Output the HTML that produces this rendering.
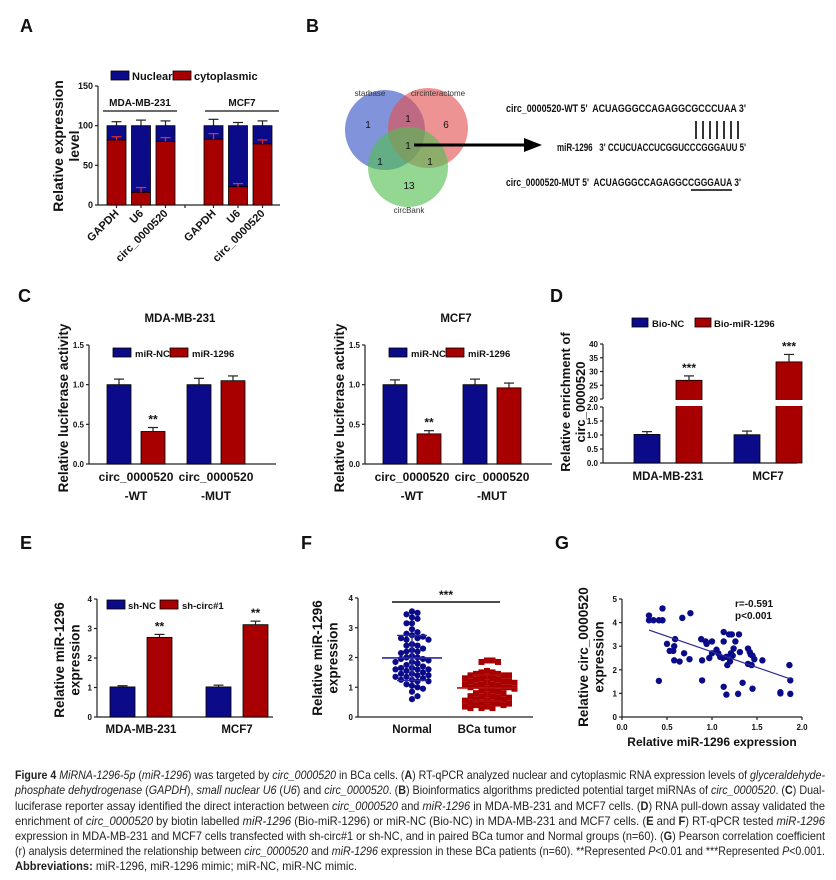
<!DOCTYPE html>
<html><head><meta charset="utf-8">
<style>
html,body{margin:0;padding:0;background:#fff;}
svg{display:block;font-family:"Liberation Sans",Arial,sans-serif;}
</style></head>
<body>
<svg id="fig" width="836" height="880" viewBox="0 0 836 880" xmlns="http://www.w3.org/2000/svg">
<rect x="0" y="0" width="836" height="880" fill="#fff"/>
<g font-weight="bold" font-size="18" fill="#111">
<text x="20" y="32">A</text>
<text x="306" y="32">B</text>
<text x="18" y="302">C</text>
<text x="550" y="302">D</text>
<text x="20" y="549">E</text>
<text x="301" y="549">F</text>
<text x="555" y="549">G</text>
</g>
<g>
<circle cx="385" cy="130" r="40" fill="rgba(80,105,205,0.72)"/>
<circle cx="428" cy="128" r="40" fill="rgba(228,80,80,0.62)"/>
<circle cx="408" cy="167" r="40" fill="rgba(80,190,80,0.62)"/>
<g font-size="8" fill="#333">
<text x="370" y="96" text-anchor="middle">starbase</text>
<text x="438" y="96" text-anchor="middle">circinteractome</text>
<text x="409" y="213" text-anchor="middle">circBank</text>
</g>
<g font-size="10" fill="#111" text-anchor="middle">
<text x="368" y="128">1</text>
<text x="408" y="122">1</text>
<text x="446" y="128">6</text>
<text x="408" y="149">1</text>
<text x="380" y="165">1</text>
<text x="430" y="165">1</text>
<text x="409" y="189">13</text>
</g>
<line x1="414" y1="145" x2="526" y2="145" stroke="#000" stroke-width="3"/>
<polygon points="524,138 542,145 524,152" fill="#000"/>
</g>
<g font-weight="bold" font-size="11" fill="#111">
<text x="506" y="112" textLength="240" lengthAdjust="spacingAndGlyphs">circ_0000520-WT 5'&#160; ACUAGGGCCAGAGGCGCCCUAA 3'</text>
<text x="557" y="151" textLength="189" lengthAdjust="spacingAndGlyphs">miR-1296&#160;&#160; 3' CCUCUACCUCGGUCCCGGGAUU 5'</text>
<text x="506" y="186" textLength="235" lengthAdjust="spacingAndGlyphs">circ_0000520-MUT 5'&#160; ACUAGGGCCAGAGGCCGGGAUA 3'</text>
<g stroke="#000" stroke-width="1.6">
<line x1="696" y1="121" x2="696" y2="139"/><line x1="703" y1="121" x2="703" y2="139"/><line x1="710" y1="121" x2="710" y2="139"/><line x1="717" y1="121" x2="717" y2="139"/><line x1="724" y1="121" x2="724" y2="139"/><line x1="731" y1="121" x2="731" y2="139"/><line x1="738" y1="121" x2="738" y2="139"/>
</g>
<line x1="691" y1="190" x2="732" y2="190" stroke="#000" stroke-width="1.4"/>
</g>
<g id="charts"></g>
<g font-size="11.6" fill="#222">
<text x="15" y="779" textLength="810" lengthAdjust="spacingAndGlyphs"><tspan font-weight="bold">Figure 4</tspan> <tspan font-style="italic">MiRNA-1296-5p</tspan> (<tspan font-style="italic">miR-1296</tspan>) was targeted by <tspan font-style="italic">circ_0000520</tspan> in BCa cells. (<tspan font-weight="bold">A</tspan>) RT-qPCR analyzed nuclear and cytoplasmic RNA expression levels of <tspan font-style="italic">glyceraldehyde-</tspan></text>
<text x="15" y="794" textLength="810" lengthAdjust="spacingAndGlyphs"><tspan font-style="italic">phosphate dehydrogenase</tspan> (<tspan font-style="italic">GAPDH</tspan>), <tspan font-style="italic">small nuclear U6</tspan> (<tspan font-style="italic">U6</tspan>) and <tspan font-style="italic">circ_0000520</tspan>. (<tspan font-weight="bold">B</tspan>) Bioinformatics algorithms predicted potential target miRNAs of <tspan font-style="italic">circ_0000520</tspan>. (<tspan font-weight="bold">C</tspan>) Dual-</text>
<text x="15" y="810" textLength="810" lengthAdjust="spacingAndGlyphs">luciferase reporter assay identified the direct interaction between <tspan font-style="italic">circ_0000520</tspan> and <tspan font-style="italic">miR-1296</tspan> in MDA-MB-231 and MCF7 cells. (<tspan font-weight="bold">D</tspan>) RNA pull-down assay validated the</text>
<text x="15" y="825" textLength="810" lengthAdjust="spacingAndGlyphs">enrichment of <tspan font-style="italic">circ_0000520</tspan> by biotin labelled <tspan font-style="italic">miR-1296</tspan> (Bio-miR-1296) or miR-NC (Bio-NC) in MDA-MB-231 and MCF7 cells. (<tspan font-weight="bold">E</tspan> and <tspan font-weight="bold">F</tspan>) RT-qPCR tested <tspan font-style="italic">miR-1296</tspan></text>
<text x="15" y="840" textLength="810" lengthAdjust="spacingAndGlyphs">expression in MDA-MB-231 and MCF7 cells transfected with sh-circ#1 or sh-NC, and in paired BCa tumor and Normal groups (n=60). (<tspan font-weight="bold">G</tspan>) Pearson correlation coefficient</text>
<text x="15" y="855" textLength="810" lengthAdjust="spacingAndGlyphs">(r) analysis determined the relationship between <tspan font-style="italic">circ_0000520</tspan> and <tspan font-style="italic">miR-1296</tspan> expression in these BCa patients (n=60). **Represented <tspan font-style="italic">P</tspan>&lt;0.01 and ***Represented <tspan font-style="italic">P</tspan>&lt;0.001.</text>
<text x="15" y="870" textLength="342" lengthAdjust="spacingAndGlyphs"><tspan font-weight="bold">Abbreviations:</tspan> miR-1296, miR-1296 mimic; miR-NC, miR-NC mimic.</text>
</g>
</svg>
<script>
// ---------- DATA ----------
const aCategories = ['GAPDH','U6','circ_0000520','GAPDH','U6','circ_0000520'];
const aCyto = [82,16,80,83,23,77];
const aNuclear = [18,84,20,17,77,23];
const aTotalErr = [5,7,6,8,4,6];
const aCytoErr = [4,6,5,7,4,5];
const aTicks = [0,50,100,150];
const aGroups = ['MDA-MB-231','MCF7'];
const cCategories = ['-WT','-MUT'];
const cLeftNC = [1.0,1.0];
const cLeftMiR = [0.41,1.05];
const cLeftNCErr = [0.07,0.08];
const cLeftMiRErr = [0.05,0.06];
const cRightNC = [1.0,1.0];
const cRightMiR = [0.38,0.96];
const cRightNCErr = [0.06,0.07];
const cRightMiRErr = [0.04,0.06];
const cTicks = [0,0.5,1.0,1.5];
const cTickLabels = ['0.0','0.5','1.0','1.5'];
const dCategories = ['MDA-MB-231','MCF7'];
const dBioNC = [1.02,1.01];
const dBioNCErr = [0.1,0.13];
const dBioMiR = [26.8,33.5];
const dBioMiRErr = [1.6,2.7];
const dLowTicks = [0,0.5,1.0,1.5,2.0];
const dLowTickLabels = ['0.0','0.5','1.0','1.5','2.0'];
const dHighTicks = [20,25,30,35,40];
const eCategories = ['MDA-MB-231','MCF7'];
const eShNC = [1.02,1.02];
const eShNCErr = [0.04,0.06];
const eShCirc = [2.7,3.13];
const eShCircErr = [0.1,0.12];
const eTicks = [0,1,2,3,4];
const fCategories = ['Normal','BCa tumor'];
const fNormal = [3.5,3.45,3.55,3.3,3.35,3.15,3.15,2.95,2.8,2.75,2.7,2.85,2.6,2.65,2.6,2.45,2.4,2.4,2.25,2.2,2.3,2.2,2.15,2.0,2.05,1.95,2.0,1.9,1.95,1.85,1.85,1.8,1.75,1.7,1.65,1.6,1.6,1.55,1.6,1.5,1.45,1.45,1.4,1.35,1.4,1.3,1.35,1.25,1.2,1.25,1.2,1.1,1.0,1.05,0.95,0.85,0.7,0.6,2.65,1.65];
const fTumor = [1.9,1.85,1.9,1.85,1.55,1.5,1.5,1.45,1.4,1.4,1.35,1.3,1.3,1.25,1.25,1.2,1.2,1.15,1.15,1.1,1.1,1.1,1.05,1.05,1.0,1.0,0.95,0.95,0.9,0.9,0.85,0.8,0.8,0.75,0.7,0.7,0.65,0.6,0.6,0.55,0.55,0.5,0.5,0.45,0.45,0.4,0.4,0.35,0.35,0.3,0.3,0.3,1.45,1.4,1.3,1.2,1.0,0.7,0.5,0.65];
const fTicks = [0,1,2,3,4];
const gMiR = [0.30,0.30,0.35,0.41,0.45,0.45,0.41,0.50,0.53,0.57,0.59,0.58,0.58,0.64,0.67,0.69,0.76,0.75,0.88,0.89,0.89,0.93,0.94,0.97,1.00,1.00,1.05,1.07,1.09,1.12,1.13,1.13,1.13,1.16,1.17,1.16,1.19,1.20,1.21,1.22,1.23,1.24,1.26,1.29,1.30,1.31,1.34,1.40,1.40,1.42,1.43,1.44,1.45,1.45,1.47,1.56,1.86,1.76,1.76,1.87,1.87];
const gCirc = [4.3,4.1,4.1,4.1,4.1,4.6,1.53,3.1,2.8,2.8,3.3,3.0,2.4,2.35,4.2,2.7,4.4,2.45,3.3,2.4,1.55,3.2,3.1,2.5,3.2,2.7,2.85,2.7,2.55,2.5,3.6,3.2,1.28,2.55,2.2,0.95,3.5,2.35,2.7,3.5,2.6,2.9,3.2,0.98,3.5,2.75,1.45,2.9,2.25,2.75,2.65,2.2,1.2,2.6,2.45,2.4,2.2,1.0,1.05,1.55,0.98];
const gXTicks = [0,0.5,1.0,1.5,2.0];
const gXTickLabels = ['0.0','0.5','1.0','1.5','2.0'];
const gYTicks = [0,1,2,3,4,5];

// ---------- HELPERS ----------
const NS = 'http://www.w3.org/2000/svg';
const root = document.getElementById('charts');
const NAVY = '#0b0b8a', RED = '#a80000';
function mk(tag, attrs, name, parent) {
  const el = document.createElementNS(NS, tag);
  for (const k in attrs) el.setAttribute(k, attrs[k]);
  
  
  (parent || root).appendChild(el);
  return el;
}
function txt(x, y, s, size, name, extra) {
  const a = Object.assign({x: x, y: y, 'font-size': size, 'font-weight': 'bold', fill: '#111'}, extra || {});
  const t = mk('text', a, name);
  t.textContent = s;
  return t;
}
function lin(d0, d1, r0, r1) { return v => r0 + (v - d0) * (r1 - r0) / (d1 - d0); }
function line(x1, y1, x2, y2, name, color, w) {
  return mk('line', {x1: x1, y1: y1, x2: x2, y2: y2, stroke: color || '#222', 'stroke-width': w || 1.2}, name);
}
function bar(x, w, yTop, yBot, color, name) {
  return mk('rect', {x: x, y: Math.min(yTop, yBot), width: w, height: Math.abs(yBot - yTop), fill: color, stroke: '#000', 'stroke-width': 0.8}, name);
}
function errUp(cx, yv, yerr, color, name) {
  line(cx, yv, cx, yerr, name + '-stem', color || '#222', 1.2);
  line(cx - 5, yerr, cx + 5, yerr, name + '-cap', color || '#222', 1.2);
}
function yAxis(x, y0, y1, ticks, labels, sc, name, size) {
  line(x, y0, x, y1, name + '-line');
  ticks.forEach((t, i) => {
    line(x - 3, sc(t), x, sc(t), name + '-tick');
    txt(x - 5, sc(t) + 3, labels ? labels[i] : String(t), size || 8, name + '-label', {'text-anchor': 'end'});
  });
}
function yLabel(cx, cy, lines, size, name) {
  lines.forEach((s, i) => {
    const x = cx + i * (size + 2);
    txt(x, cy, s, size, name, {'text-anchor': 'middle', transform: 'rotate(-90 ' + x + ' ' + cy + ')'});
  });
}

// ---------- PANEL A ----------
(function () {
  const y = lin(0, 150, 205, 86);
  const ax = 98;
  yAxis(ax, 205, 86, aTicks, null, y, 'a-y-axis', 9);
  line(ax, 205, 280, 205, 'a-x-axis');
  line(185, 205, 185, 208, 'a-x-tick');
  yLabel(63, 146, ['Relative expression', 'level'], 14, 'a-y-axis-title');
  const bw = 19;
  aCategories.forEach((c, i) => {
    const g = Math.floor(i / 3);
    const x = 107 + (i % 3) * 24.5 + g * 97;
    const cx = x + bw / 2;
    const total = aCyto[i] + aNuclear[i];
    errUp(cx, y(total), y(total + aTotalErr[i]), '#222', 'a-total-error');
    bar(x, bw, y(total), y(aCyto[i]), NAVY, 'a-bar-nuclear-' + i);
    bar(x, bw, y(aCyto[i]), y(0), RED, 'a-bar-cyto-' + i);
    errUp(cx, y(aCyto[i]), y(aCyto[i] + aCytoErr[i]), '#e03030', 'a-cyto-error');
    line(cx, 205, cx, 208, 'a-x-tick');
    txt(cx + 3, 214, c, 11, 'a-x-label-' + i, {'text-anchor': 'end', transform: 'rotate(-45 ' + (cx + 3) + ' 214)'});
  });
  aGroups.forEach((g, k) => {
    const x0 = 103 + k * 102, x1 = 177 + k * 102;
    line(x0, 111, x1, 111, 'a-group-line', '#111', 1.2);
    txt((x0 + x1) / 2, 106, g, 10, 'a-group-label', {'text-anchor': 'middle'});
  });
  mk('rect', {x: 111, y: 71, width: 18, height: 9, fill: NAVY, stroke: '#000', 'stroke-width': 0.8}, 'legend-swatch-nuclear');
  txt(132, 80, 'Nuclear', 11, 'legend-label-nuclear');
  mk('rect', {x: 173, y: 71, width: 18, height: 9, fill: RED, stroke: '#000', 'stroke-width': 0.8}, 'legend-swatch-cytoplasmic');
  txt(194, 80, 'cytoplasmic', 11, 'legend-label-cytoplasmic');
})();

// ---------- PANEL C ----------
function drawC(ax, title, nc, mi, ncE, miE, pre) {
  const y = lin(0, 1.5, 464, 345);
  yAxis(ax, 464, 345, cTicks, cTickLabels, y, pre + '-y-axis', 8);
  line(ax, 464, ax + 187, 464, pre + '-x-axis');
  yLabel(ax - 21, 408, ['Relative luciferase activity'], 13.5, pre + '-y-axis-title');
  txt(ax + 91, 322, title, 11.5, pre + '-title', {'text-anchor': 'middle'});
  cCategories.forEach((c, i) => {
    const gc = ax + 47 + i * 80;
    bar(gc - 29, 24, y(nc[i]), y(0), NAVY, pre + '-bar-mir-nc-' + i);
    errUp(gc - 17, y(nc[i]), y(nc[i] + ncE[i]), '#222', pre + '-err-nc');
    bar(gc + 5, 24, y(mi[i]), y(0), RED, pre + '-bar-mir-1296-' + i);
    errUp(gc + 17, y(mi[i]), y(mi[i] + miE[i]), '#222', pre + '-err-1296');
    if (mi[i] < 0.6) txt(gc + 17, y(mi[i] + miE[i]) - 4, '**', 12, pre + '-significance', {'text-anchor': 'middle'});
    txt(gc, 481, 'circ_0000520', 12, pre + '-x-label', {'text-anchor': 'middle'});
    txt(gc, 500, c, 12, pre + '-x-label', {'text-anchor': 'middle'});
  });
  mk('rect', {x: ax + 24, y: 348, width: 18, height: 9, fill: NAVY, stroke: '#000', 'stroke-width': 0.8}, pre + '-legend-swatch-nc');
  txt(ax + 46, 357, 'miR-NC', 9.5, pre + '-legend-label-nc');
  mk('rect', {x: ax + 81, y: 348, width: 18, height: 9, fill: RED, stroke: '#000', 'stroke-width': 0.8}, pre + '-legend-swatch-1296');
  txt(ax + 103, 357, 'miR-1296', 9.5, pre + '-legend-label-1296');
}
drawC(89, 'MDA-MB-231', cLeftNC, cLeftMiR, cLeftNCErr, cLeftMiRErr, 'c-left');
drawC(365, 'MCF7', cRightNC, cRightMiR, cRightNCErr, cRightMiRErr, 'c-right');

// ---------- PANEL D ----------
(function () {
  const ax = 603;
  const yl = lin(0, 2, 463, 407);
  const yh = lin(20, 40, 399, 344);
  const y = v => v <= 2 ? yl(v) : yh(v);
  yAxis(ax, 463, 407, dLowTicks, dLowTickLabels, yl, 'd-y-axis-low', 8);
  yAxis(ax, 399, 344, dHighTicks, null, yh, 'd-y-axis-high', 8);
  line(ax, 463, 797, 463, 'd-x-axis');
  yLabel(570, 402, ['Relative enrichment of', 'circ_0000520'], 13, 'd-y-axis-title');
  dCategories.forEach((c, i) => {
    const gc = 668 + i * 100;
    bar(gc - 34, 26, y(dBioNC[i]), y(0), NAVY, 'd-bar-bio-nc-' + i);
    errUp(gc - 21, y(dBioNC[i]), y(dBioNC[i] + dBioNCErr[i]), '#222', 'd-err-nc');
    bar(gc + 8, 26, y(dBioMiR[i]), y(0), RED, 'd-bar-bio-mir-' + i);
    mk('rect', {x: gc + 6, y: 400, width: 30, height: 6, fill: '#fff'}, 'd-axis-break-gap');
    errUp(gc + 21, y(dBioMiR[i]), y(dBioMiR[i] + dBioMiRErr[i]), '#222', 'd-err-mir');
    txt(gc + 21, y(dBioMiR[i] + dBioMiRErr[i]) - 4, '***', 12, 'd-significance', {'text-anchor': 'middle'});
    txt(gc, 480, c, 11.5, 'd-x-label', {'text-anchor': 'middle'});
  });
  mk('rect', {x: 632, y: 318, width: 16, height: 9, fill: NAVY, stroke: '#000', 'stroke-width': 0.8}, 'd-legend-swatch-nc');
  txt(652, 327, 'Bio-NC', 9.5, 'd-legend-label-nc');
  mk('rect', {x: 695, y: 318, width: 16, height: 9, fill: RED, stroke: '#000', 'stroke-width': 0.8}, 'd-legend-swatch-mir');
  txt(714, 327, 'Bio-miR-1296', 9.5, 'd-legend-label-mir');
})();

// ---------- PANEL E ----------
(function () {
  const ax = 97;
  const y = lin(0, 4, 717, 599);
  yAxis(ax, 717, 599, eTicks, null, y, 'e-y-axis', 8);
  line(ax, 717, 273, 717, 'e-x-axis');
  yLabel(64, 660, ['Relative miR-1296', 'expression'], 13.5, 'e-y-axis-title');
  eCategories.forEach((c, i) => {
    const gc = 141 + i * 96;
    bar(gc - 31, 25, y(eShNC[i]), y(0), NAVY, 'e-bar-sh-nc-' + i);
    errUp(gc - 18.5, y(eShNC[i]), y(eShNC[i] + eShNCErr[i]), '#222', 'e-err-nc');
    bar(gc + 6, 25, y(eShCirc[i]), y(0), RED, 'e-bar-sh-circ-' + i);
    errUp(gc + 18.5, y(eShCirc[i]), y(eShCirc[i] + eShCircErr[i]), '#222', 'e-err-circ');
    txt(gc + 18.5, y(eShCirc[i] + eShCircErr[i]) - 4, '**', 12, 'e-significance', {'text-anchor': 'middle'});
    txt(gc, 733, c, 11.5, 'e-x-label', {'text-anchor': 'middle'});
  });
  mk('rect', {x: 107, y: 600, width: 18, height: 9, fill: NAVY, stroke: '#000', 'stroke-width': 0.8}, 'e-legend-swatch-nc');
  txt(128, 609, 'sh-NC', 9.5, 'e-legend-label-nc');
  mk('rect', {x: 160, y: 600, width: 18, height: 9, fill: RED, stroke: '#000', 'stroke-width': 0.8}, 'e-legend-swatch-circ');
  txt(182, 609, 'sh-circ#1', 9.5, 'e-legend-label-circ');
})();

// ---------- PANEL F ----------
(function () {
  const ax = 358;
  const y = lin(0, 4, 717, 598);
  yAxis(ax, 717, 598, fTicks, null, y, 'f-y-axis', 8);
  line(ax, 717, 533, 717, 'f-x-axis');
  yLabel(322, 658, ['Relative miR-1296', 'expression'], 13.5, 'f-y-axis-title');
  line(392, 602, 500, 602, 'f-significance-line', '#111', 1.4);
  txt(446, 599, '***', 12, 'f-significance', {'text-anchor': 'middle'});
  const sets = [fNormal, fTumor];
  sets.forEach((data, g) => {
    const cx = 412 + g * 75;
    const placed = [];
    const D = 5.5;
    const order = data.map((v, i) => i).sort((a, b) => data[b] - data[a]);
    order.forEach(i => {
      const v = data[i];
      const py = y(v);
      let off = 0;
      for (let step = 0; step < 40; step++) {
        const cand = step === 0 ? 0 : (step % 2 ? 1 : -1) * Math.ceil(step / 2) * 2.75;
        const ok = placed.every(p => (p.x - cand) * (p.x - cand) + (p.y - py) * (p.y - py) >= D * D);
        if (ok) { off = cand; break; }
      }
      placed.push({x: off, y: py});
      if (g === 0) {
        mk('circle', {cx: cx + off, cy: py, r: 3.1, fill: NAVY}, 'f-point-normal');
      } else {
        mk('rect', {x: cx + off - 3, y: py - 3, width: 6, height: 6, fill: RED}, 'f-point-tumor');
      }
    });
    const mean = data.reduce((a, b) => a + b, 0) / data.length;
    const sd = Math.sqrt(data.reduce((a, b) => a + (b - mean) * (b - mean), 0) / (data.length - 1));
    const col = g === 0 ? '#2a2aa0' : '#b01010';
    line(cx - 30, y(mean), cx + 30, y(mean), 'f-mean-line', col, 1.6);
    line(cx, y(mean - sd), cx, y(mean + sd), 'f-sd-line', col, 1.3);
    line(cx - 15, y(mean + sd), cx + 15, y(mean + sd), 'f-sd-cap', col, 1.3);
    line(cx - 15, y(mean - sd), cx + 15, y(mean - sd), 'f-sd-cap', col, 1.3);
    txt(cx, 733, fCategories[g], 11.5, 'f-x-label', {'text-anchor': 'middle'});
  });
})();

// ---------- PANEL G ----------
(function () {
  const x = lin(0, 2, 622, 802);
  const y = lin(0, 5, 717, 599);
  yAxis(622, 717, 599, gYTicks, null, y, 'g-y-axis', 8);
  line(622, 717, 802, 717, 'g-x-axis');
  gXTicks.forEach((t, i) => {
    line(x(t), 717, x(t), 720, 'g-x-tick');
    txt(x(t), 730, gXTickLabels[i], 8, 'g-x-tick-label', {'text-anchor': 'middle'});
  });
  yLabel(588, 657, ['Relative circ_0000520', 'expression'], 13.5, 'g-y-axis-title');
  txt(712, 746, 'Relative miR-1296 expression', 12, 'g-x-axis-title', {'text-anchor': 'middle'});
  gMiR.forEach((v, i) => {
    mk('circle', {cx: x(v), cy: y(gCirc[i]), r: 3.2, fill: NAVY}, 'g-point');
  });
  const n = gMiR.length;
  const mx = gMiR.reduce((a, b) => a + b, 0) / n;
  const my = gCirc.reduce((a, b) => a + b, 0) / n;
  let sxy = 0, sxx = 0;
  gMiR.forEach((v, i) => { sxy += (v - mx) * (gCirc[i] - my); sxx += (v - mx) * (v - mx); });
  const slope = sxy / sxx, icpt = my - slope * mx;
  const xmin = Math.min.apply(null, gMiR), xmax = Math.max.apply(null, gMiR);
  line(x(xmin), y(icpt + slope * xmin), x(xmax), y(icpt + slope * xmax), 'g-regression-line', '#2a2a90', 1.2);
  txt(735, 607, 'r=-0.591', 10, 'g-r-value');
  txt(735, 619, 'p<0.001', 10, 'g-p-value');
})();
</script>
</body></html>
